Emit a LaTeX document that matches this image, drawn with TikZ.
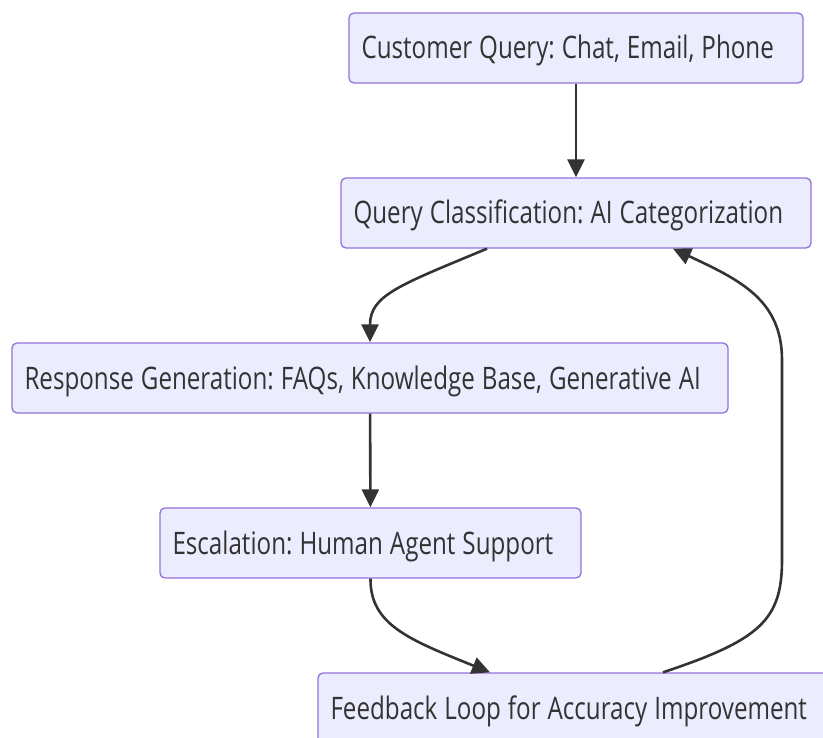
\documentclass[tikz,border=0pt]{standalone}
\usepackage{fontspec}
\setmainfont[FakeStretch=0.78]{Open Sans}
\usetikzlibrary{arrows.meta,calc}

\definecolor{boxfill}{HTML}{ECECFF}
\definecolor{boxline}{HTML}{9370DB}
\definecolor{ink}{HTML}{333333}
\frenchspacing
% left set line of fixed width, with narrow word spaces
\newcommand{\boxtext}[2]{\makebox[#1][l]{\spaceskip=7pt\relax#2}}

\begin{document}
\begin{tikzpicture}[x=1pt,y=-1pt,
        box/.style={draw=boxline, fill=boxfill, line width=1.3pt, rounded corners=5pt,
            minimum height=70pt, inner xsep=12.5pt, inner ysep=0pt,
            text=ink, font=\fontsize{31}{36}\selectfont,
            text height=22pt, text depth=0pt},
        flow/.style={draw=ink, line width=2.6pt, -{Triangle[length=18pt,width=17pt]}}]
        \useasboundingbox (0,0) rectangle (823,738);
        \clip (0,0) rectangle (823,738);

        \node[box] (query) at (576,48) {\boxtext{429pt}{Customer Query: Chat, Email, Phone}};
        \node[box] (class) at (576,213) {\boxtext{445pt}{Query Classification: AI Categorization}};
        \node[box] (resp) at (370,378) {\boxtext{691pt}{Response Generation: FAQs, Knowledge Base, Generative AI}};
        \node[box] (esc) at (370.5,543) {\boxtext{396pt}{Escalation: Human Agent Support}};
        \node[box] (loop) at (576,708) {\boxtext{491pt}{Feedback Loop for Accuracy Improvement}};

        \draw[flow] (query) -- (class);
        \draw[flow] ([xshift=-89pt]class.south) .. controls (400,285) and (370,295) .. (resp.north);
        \draw[flow] (resp) -- (esc);
        \draw[flow] (esc.south) .. controls (370,625) and (410,640) .. ([xshift=-86pt]loop.north);

        % way back up to the classifier
        \coordinate (bend1) at (782,560);
        \coordinate (bend2) at (782,360);
        \draw[flow] ([xshift=87pt]loop.north) .. controls (760,640) and (782,620) .. (bend1)
            -- (bend2) .. controls (782,300) and (740,280) .. ([xshift=97pt]class.south);
\end{tikzpicture}
\end{document}
